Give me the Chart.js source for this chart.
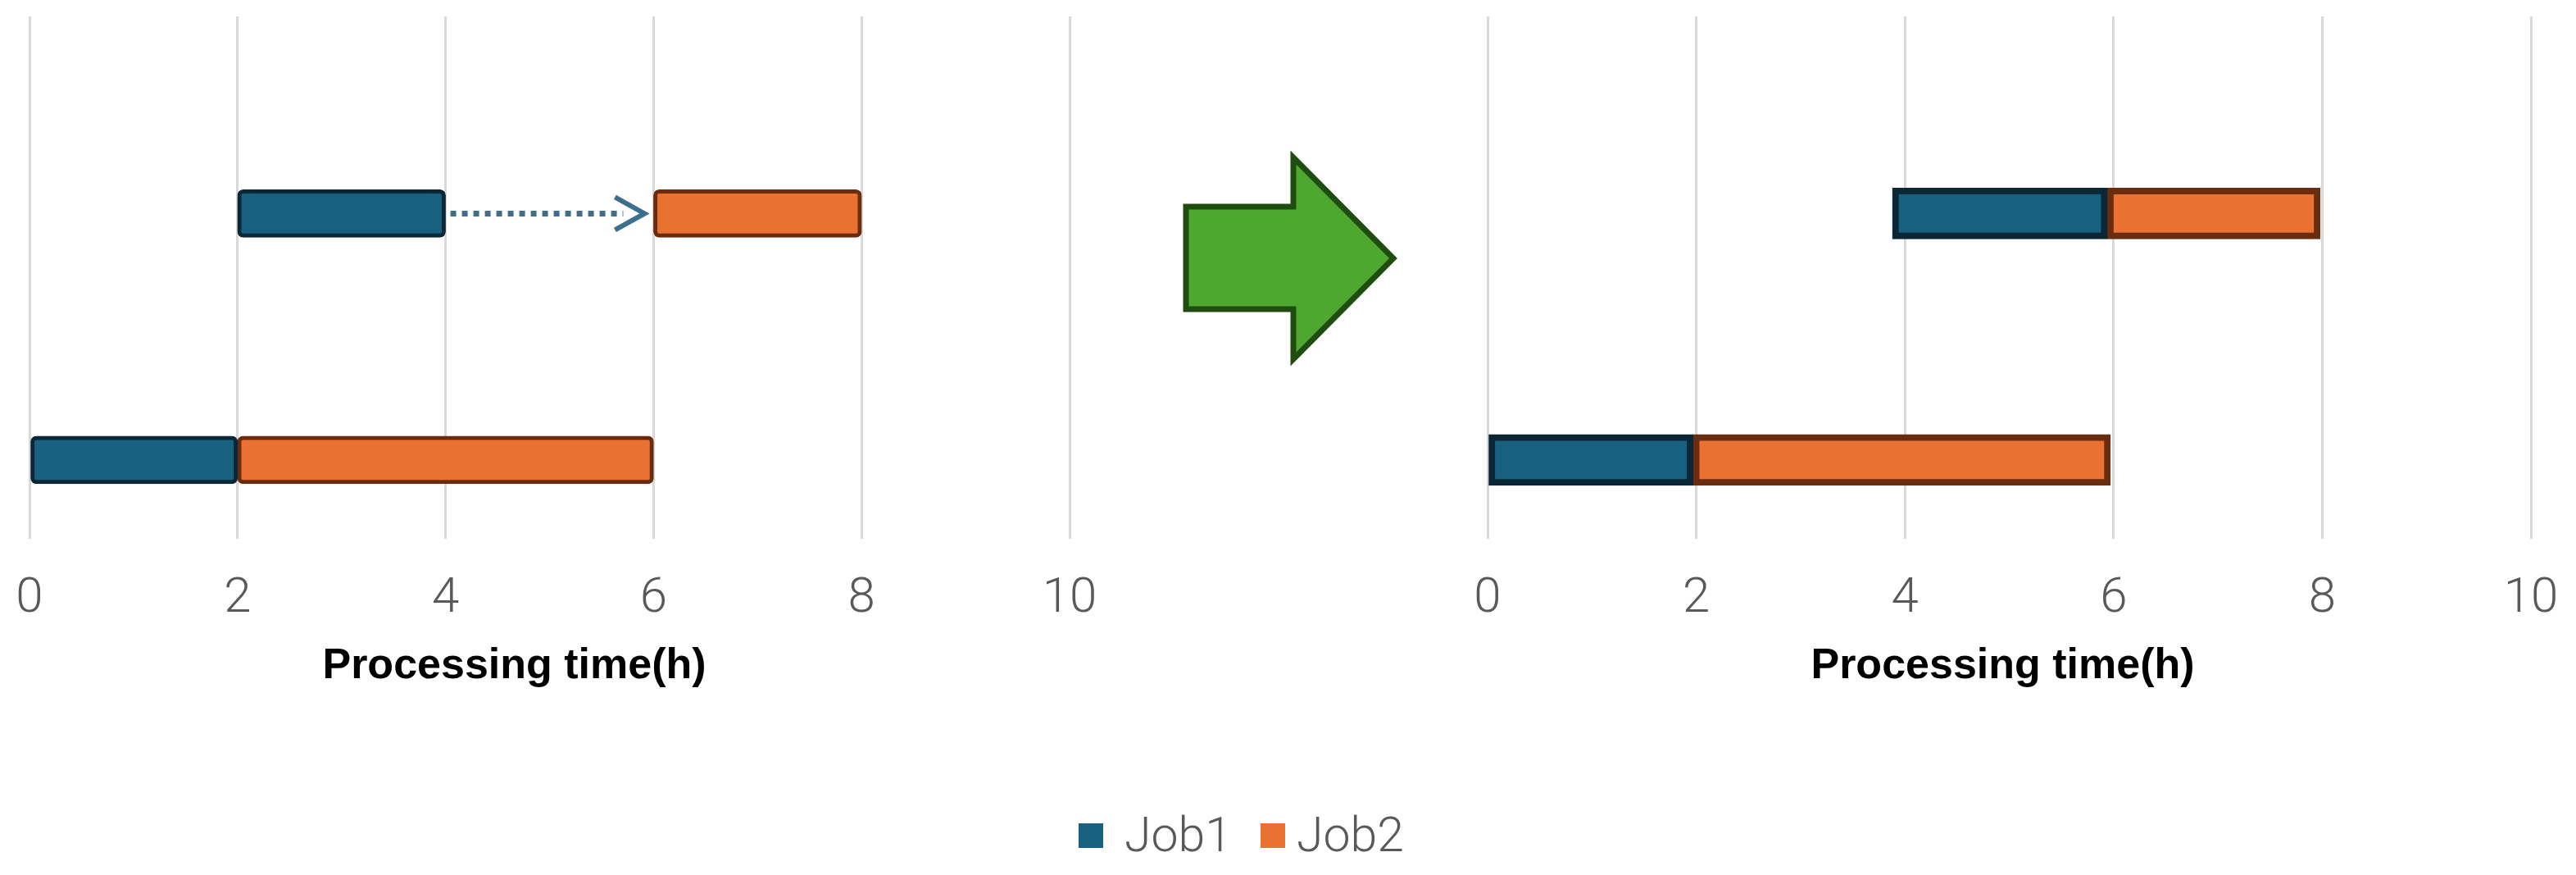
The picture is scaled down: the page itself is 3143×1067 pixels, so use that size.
<!DOCTYPE html>
<html>
<head>
<meta charset="utf-8">
<script src="https://cdn.jsdelivr.net/npm/chart.js@4.4.1/dist/chart.umd.min.js"></script>
<style>
  html, body { margin: 0; padding: 0; background: #ffffff; }
  body { width: 3143px; height: 1067px; position: relative; overflow: hidden; }
  #leftWrap { position: absolute; left: 0; top: 0; width: 1360px; height: 860px; }
  #rightWrap { position: absolute; left: 1750px; top: 0; width: 1393px; height: 860px; }
  #bigArrow { position: absolute; left: 0; top: 0; }
  .lg-box { position: absolute; width: 30px; height: 30px; top: 1004px; }
  .lg-txt { position: absolute; top: 988px; font-family: Roboto, "Open Sans", sans-serif; font-weight: 300;
            font-size: 59px; line-height: 59px; color: #595959; white-space: nowrap; }
</style>
</head>
<body>
<div id="leftWrap"><canvas id="leftChart"></canvas></div>
<div id="rightWrap"><canvas id="rightChart"></canvas></div>
<svg id="bigArrow" width="3143" height="1067">
  <polygon points="1447,252 1578,252 1578,192 1700,315 1578,438 1578,377 1447,377"
           fill="#4ea72e" stroke="#1f4d10" stroke-width="7" stroke-linejoin="miter"/>
</svg>
<div class="lg-box" style="left:1316px;background:#17607f;"></div>
<div class="lg-txt" style="left:1372px;">Job1</div>
<div class="lg-box" style="left:1538px;background:#e97132;"></div>
<div class="lg-txt" style="left:1582px;">Job2</div>

<script>
// ---- data ----
const seriesNames = ['Job1', 'Job2'];
const rowPositions = [1, 2];               // lower row, upper row
const xTicksMin = 0;
const xTicksMax = 10;
const xTickStep = 2;
const axisTitle = 'Processing time(h)';

// before rescheduling (left)
const leftJob1 = [[0, 2], [2, 4]];
const leftJob2 = [[2, 6], [6, 8]];
// shift arrow: from end of Job1 to start of Job2 on upper row
const shiftFrom = [4, 2];
const shiftTo = [6, 2];

// after rescheduling (right)
const rightJob1 = [[0, 1.97], [3.88, 5.94]];
const rightJob2 = [[1.97, 5.97], [5.94, 7.98]];

// ---- styling ----
const job1Fill = '#17607f', job2Fill = '#e97132';
const job1Border = '#0b2736', job2Border = '#6a2c0e';
const yMin = 0.68, yMax = 2.8;

function toPoints(ranges) {
  return ranges.map((r, i) => ({ x: r, y: rowPositions[i] }));
}

function makeDatasets(j1, j2, opts) {
  return [
    Object.assign({ label: seriesNames[0], data: toPoints(j1), backgroundColor: job1Fill, borderColor: job1Border }, opts),
    Object.assign({ label: seriesNames[1], data: toPoints(j2), backgroundColor: job2Fill, borderColor: job2Border }, opts)
  ];
}

function makeOptions(padLeft, padRight, titleShift) {
  return {
    indexAxis: 'y',
    responsive: true,
    maintainAspectRatio: false,
    animation: false,
    layout: { padding: { left: padLeft, right: padRight, top: 20, bottom: 18 } },
    plugins: {
      legend: { display: false },
      tooltip: { enabled: false },
      title: { display: false },
      axisTitleText: { text: axisTitle, shift: titleShift, baseline: 827 }
    },
    scales: {
      x: {
        type: 'linear',
        min: xTicksMin,
        max: xTicksMax,
        afterFit: (s) => { s.height = 185; s.paddingLeft = 0; s.paddingRight = 0; },
        ticks: {
          stepSize: xTickStep,
          color: '#595959',
          padding: 38,
          font: { family: 'Roboto, "Open Sans", sans-serif', size: 60, weight: 300 }
        },
        grid: { color: '#d9d9d9', lineWidth: 3, drawTicks: false },
        border: { display: false },
        title: { display: false }
      },
      y: {
        type: 'linear',
        min: yMin,
        max: yMax,
        offset: false,
        display: false
      }
    }
  };
}

// axis title, centred under the plot area with a small horizontal shift
const axisTitlePlugin = {
  id: 'axisTitleText',
  afterDraw(chart, args, opts) {
    const area = chart.chartArea;
    const ctx = chart.ctx;
    ctx.save();
    ctx.font = 'bold 52px "Liberation Sans", Arial, sans-serif';
    ctx.fillStyle = '#000000';
    ctx.textAlign = 'center';
    ctx.textBaseline = 'alphabetic';
    ctx.fillText(opts.text, (area.left + area.right) / 2 + opts.shift, opts.baseline);
    ctx.restore();
  }
};

const shiftArrowPlugin = {
  id: 'shiftArrow',
  afterDatasetsDraw(chart) {
    const xs = chart.scales.x, ys = chart.scales.y;
    const ctx = chart.ctx;
    const y = ys.getPixelForValue(shiftFrom[1]);
    const x1 = xs.getPixelForValue(shiftFrom[0]) + 6;
    const tip = xs.getPixelForValue(shiftTo[0]) - 11;
    ctx.save();
    ctx.strokeStyle = '#3c6f8e';
    ctx.lineWidth = 7;
    ctx.setLineDash([7, 7]);
    ctx.lineCap = 'butt';
    ctx.beginPath();
    ctx.moveTo(x1, y);
    ctx.lineTo(tip - 26, y);
    ctx.stroke();
    ctx.setLineDash([]);
    ctx.lineWidth = 6;
    ctx.beginPath();
    ctx.moveTo(tip - 36, y - 20);
    ctx.lineTo(tip, y);
    ctx.lineTo(tip - 36, y + 20);
    ctx.stroke();
    ctx.restore();
  }
};

new Chart(document.getElementById('leftChart'), {
  type: 'bar',
  data: {
    datasets: makeDatasets(leftJob1, leftJob2, {
      grouped: false, barThickness: 58, borderWidth: 5, borderRadius: 7, borderSkipped: false
    })
  },
  options: makeOptions(36, 55, -43),
  plugins: [shiftArrowPlugin, axisTitlePlugin]
});

new Chart(document.getElementById('rightChart'), {
  type: 'bar',
  data: {
    datasets: makeDatasets(rightJob1, rightJob2, {
      grouped: false, barThickness: 62, borderWidth: 8, borderRadius: 0, borderSkipped: false
    })
  },
  options: makeOptions(65, 55, -8),
  plugins: [axisTitlePlugin]
});
</script>
</body>
</html>
